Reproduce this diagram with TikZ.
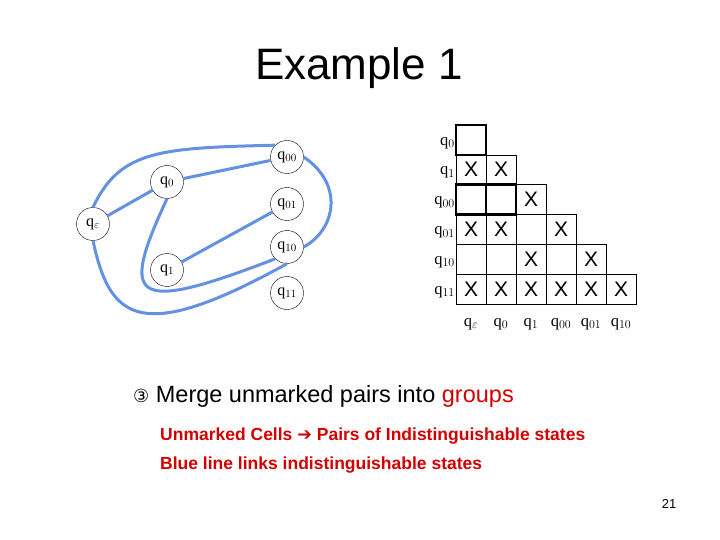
\documentclass[tikz,border=0pt]{standalone}
\usepackage{fontspec}
\setmainfont{Liberation Sans}
\newfontfamily\qf{Liberation Serif}
\newfontfamily\djf{DejaVu Sans}
\definecolor{lb}{RGB}{100,145,225}
\definecolor{rd}{RGB}{210,0,0}
\begin{document}
\begin{tikzpicture}[x=1pt,y=-1pt,
  st/.style={circle,draw,thin,minimum size=33pt,inner sep=0pt,font=\qf\fontsize{16}{16}\selectfont},
  bl/.style={draw=lb,line width=3pt},
  lab/.style={font=\qf\fontsize{16.5}{16}\selectfont,anchor=east,inner sep=1pt},
  clab/.style={font=\qf\fontsize{16.5}{16}\selectfont},
  xx/.style={font=\fontsize{21}{21}\selectfont}]
\useasboundingbox (0,0) rectangle (720,540);
\node (title) at (359,68) {\fontsize{44}{44}\selectfont Example 1};
% graph
\node[st] (qe) at (93,224) {q$_\varepsilon$};
\node[st] (q0) at (167,182) {q$_0$};
\node[st] (q1) at (167,270) {q$_1$};
\node[st] (q00) at (287,157) {q$_{00}$};
\node[st] (q01) at (287,204) {q$_{01}$};
\node[st] (q10) at (287,247) {q$_{10}$};
\node[st] (q11) at (287,293) {q$_{11}$};
\draw[bl] (qe) -- (q0);
\draw[bl] (q0) -- (q00);
\draw[bl] (q1) -- (q01);
\draw[bl] (qe.north) .. controls (120,150) and (160,148) .. (q00.north west);
\draw[bl] (q00.east) .. controls (345,185) and (335,230) .. (q10.east);
\draw[bl] (q0.south) .. controls (120,300) and (130,315) .. (q10.south west);
\draw[bl] (qe.south) .. controls (110,320) and (140,345) .. (q10.south);
% table
\def\W{30}\def\H{29.8}
\foreach \r in {1,...,6}{
  \pgfmathsetmacro\yy{125+(\r-1)*\H}
  \foreach \c in {1,...,\r}{
    \pgfmathsetmacro\xx{456+(\c-1)*\W}
    \draw[thin] (\xx,\yy) rectangle ++(\W,\H);
  }}
\draw[line width=2.5pt] (456,125) rectangle ++(\W,\H);
\draw[line width=2.5pt] (456,184.6) rectangle ++(2*\W,\H);
\draw[line width=2.5pt] (486,184.6) -- ++(0,\H);
\foreach \t [count=\r] in {q$_0$,q$_1$,q$_{00}$,q$_{01}$,q$_{10}$,q$_{11}$}
  \node[lab] (rl\r) at (456,{125+(\r-0.5)*\H+3}) {\t};
\foreach \t [count=\c] in {q$_\varepsilon$,q$_0$,q$_1$,q$_{00}$,q$_{01}$,q$_{10}$}
  \node[clab] (cl\c) at ({456+(\c-0.5)*\W},324) {\t};
\foreach \r/\c in {2/1,2/2,3/3,4/1,4/2,4/4,5/3,5/5,6/1,6/2,6/3,6/4,6/5,6/6}
  \node[xx] (x\r\c) at ({456+(\c-0.5)*\W},{125+(\r-0.5)*\H}) {X};
% text
\node[anchor=west,inner sep=0] (t1) at (133,396) {\fontsize{23.5}{24}\selectfont{\djf\fontsize{18}{18}\selectfont ③} Merge unmarked pairs into \textcolor{rd}{groups}};
\node[anchor=west,inner sep=0,text=rd] (t2) at (160,436) {\fontsize{17.5}{18}\selectfont\bfseries Unmarked Cells {\djf\mdseries ➔} Pairs of Indistinguishable states};
\node[anchor=west,inner sep=0,text=rd] (t3) at (160,465) {\fontsize{17.5}{18}\selectfont\bfseries Blue line links indistinguishable states};
\node (pg) at (669,504) {\fontsize{13}{13}\selectfont 21};
\end{tikzpicture}
\end{document}
